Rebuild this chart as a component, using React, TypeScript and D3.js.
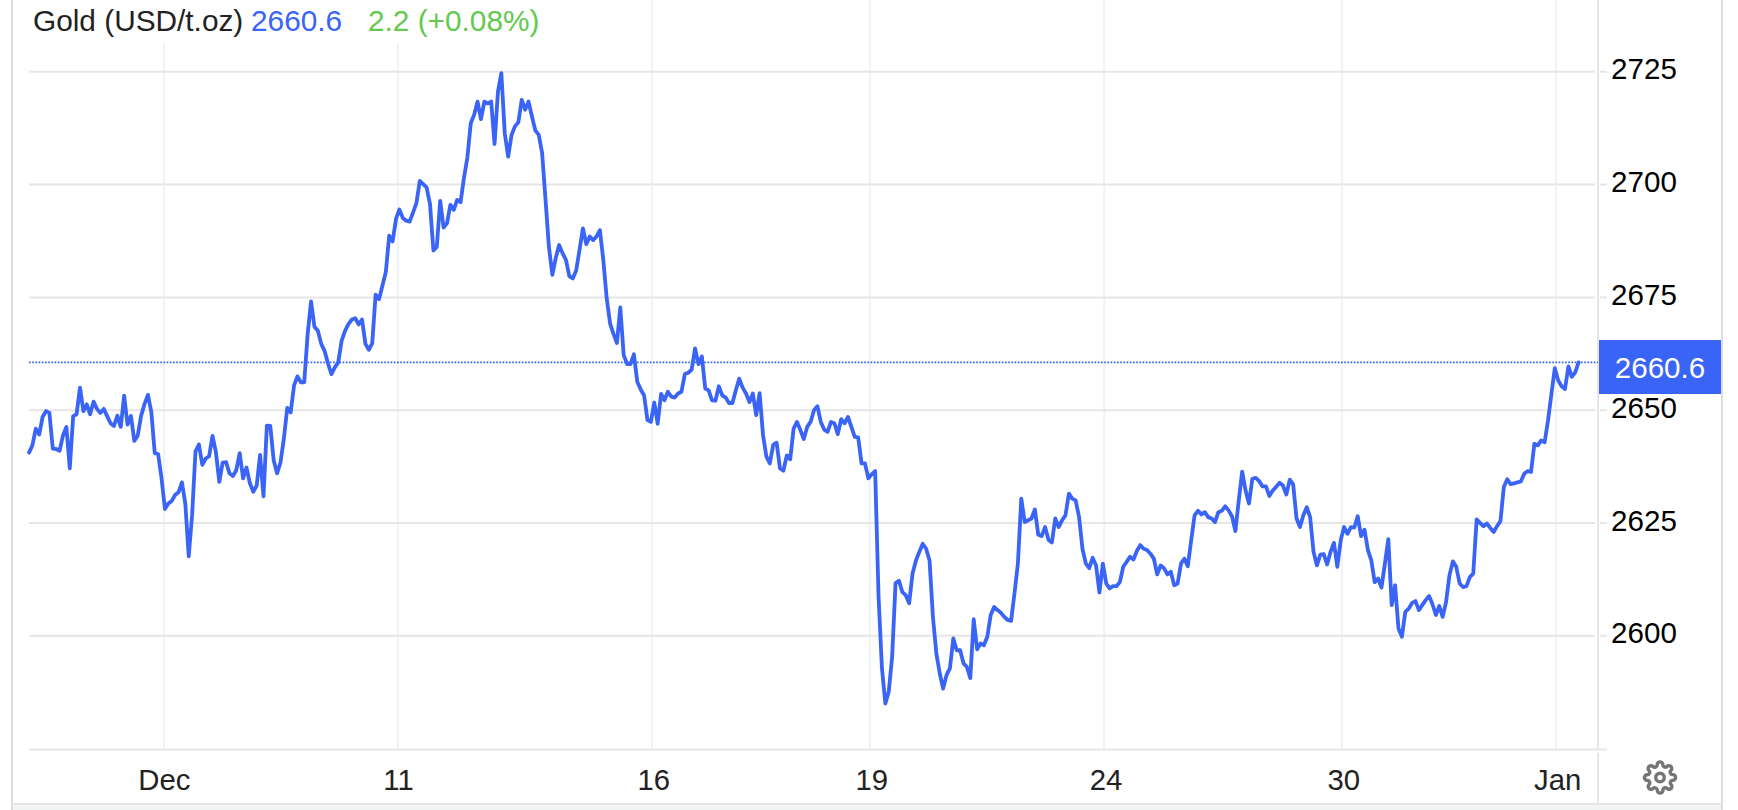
import React, { useRef, useEffect } from 'react';
import * as d3 from 'd3';

// Price per chart bar (bars are evenly spaced)
const lateNov = [
  2640.6, 2642.2, 2645.9, 2644.6, 2648.5, 2649.8, 2649.4, 2641.5, 2641.4, 2641, 2644.4, 2646.3, 2637.1, 2648.7,
  2649.1, 2655, 2649.8, 2651.3, 2649.1, 2651.9, 2650.3, 2649.4, 2650.3, 2648.7, 2647.1, 2646.5, 2648.8, 2646.3,
  2653.2, 2646.8, 2648.7, 2643.2, 2644.4, 2648.8, 2651.4, 2653.4, 2649.6, 2640.5, 2640.3, 2634.9, 2628.1, 2629.3,
  2629.9, 2631.2, 2631.8, 2634, 2629.3, 2617.6, 2626.8, 2640.9, 2642.4, 2637.9, 2639.3, 2639.8, 2644.3, 2640.7,
  2634.1, 2638.4, 2638.5, 2636, 2635.4, 2636.7, 2640.5, 2634.9, 2637.3, 2633.8,
];
const earlyDec = [
  2631.9, 2633.3, 2640.1, 2630.9, 2646.6, 2646.5, 2638.9, 2636, 2638.4, 2643.7, 2650.5, 2649.5, 2655.5, 2657.5,
  2656.2, 2656.2, 2666.9, 2674.1, 2668.5, 2667.6, 2664.7, 2663.1, 2660.3, 2658, 2659.5, 2660.6, 2665.4, 2667.6,
  2669.1, 2670.1, 2670.4, 2669, 2670.1, 2664.7, 2663.4, 2664.8, 2675.6, 2674.6, 2677.6, 2680.6, 2688.7, 2687.4,
  2692.4, 2694.5, 2692.6, 2692, 2691.8, 2693.8, 2695.9, 2700.8, 2700.1, 2699.4, 2695.7, 2685.4, 2686.2, 2696.4,
  2690.5, 2691.4, 2695.5, 2694.4, 2696.6, 2696.1,
];
const midDec = [
  2701.5, 2706, 2713.6, 2715.5, 2718.4, 2714.5, 2718.4, 2718, 2718.4, 2709, 2720.6, 2724.7, 2711.4, 2706.2, 2711,
  2712.9, 2713.8, 2718.8, 2716.6, 2718.4, 2715.1, 2712, 2711, 2707, 2696.6, 2686.2, 2680, 2683.7, 2686.6, 2684.8,
  2683.3, 2679.7, 2679.2, 2680.9, 2685.5, 2690.3, 2686.8, 2688.5, 2687.7, 2688.5, 2689.9, 2683.3, 2674.8, 2669.2,
  2666.9, 2664.9, 2672.8, 2662.2, 2660.2, 2660.2, 2662.4, 2656.3, 2654.6, 2653.3, 2647.8, 2647.4, 2651.7, 2647,
  2653.6, 2652.2, 2654.1, 2653, 2652.8, 2653.7, 2654.1, 2658, 2658.3, 2659, 2663.7, 2660.2,
];
const preFed = [
  2661.9, 2654.8, 2654.4, 2652.2, 2652.1, 2655.3, 2653.3, 2652.8, 2651.6, 2651.6, 2654.4, 2657, 2655, 2653.7, 2651.8,
  2653.7, 2648.9, 2653.8, 2644.5, 2639.7, 2638.2, 2642.3, 2642.8, 2637.1, 2636.6, 2640, 2639.1, 2645.9, 2647.4,
  2645.6, 2643.6, 2646.3, 2647.4, 2650, 2650.9, 2647.4, 2645.7, 2645.2, 2647.4, 2647.1, 2644.7, 2648, 2647.1, 2648.5,
  2646.3, 2644.1, 2644, 2638.2, 2638.2, 2634.9, 2635.8, 2636.5,
];
const postFed = [
  2608.6, 2592.8, 2585, 2587.6, 2595.4, 2611.7, 2612.2, 2609.7, 2609, 2607.2, 2613.8, 2616.7, 2618.6, 2620.4, 2619.3,
  2616.7, 2604.2, 2596.1, 2591.7, 2588.3, 2591.3, 2592.8, 2599.4, 2596.8, 2596.8, 2593.9, 2593.1, 2590.6, 2603.7,
  2597, 2598.3, 2597.9, 2599.8, 2604.6, 2606.4, 2605.7, 2605.1, 2604.2, 2603.5, 2603.3, 2609.4, 2616, 2630.4, 2625.2,
  2625.6, 2626, 2628, 2622.4, 2622.1, 2624.1, 2621.3, 2620.7, 2626, 2624.1, 2625.6, 2626.7, 2631.5, 2630.4, 2630,
  2626.3, 2619.3, 2616, 2615, 2617.3, 2615.6, 2609.6, 2616, 2611.6, 2610.5, 2611, 2611, 2611.9, 2615.3, 2616.4,
  2617.5, 2616.9, 2618.8, 2620.1, 2619.3, 2619, 2618.2, 2617.1, 2613.6, 2615.6, 2615, 2613.6, 2614.2, 2611.2, 2611.6,
];
const yearEnd = [
  2616, 2617.1, 2615.4, 2621.2, 2626.7, 2627.7, 2626.9, 2627.4, 2626.3, 2626, 2625.2, 2627.4, 2627.7, 2628.7, 2627.8,
  2626.5, 2623.2, 2630, 2636.4, 2632.2, 2629.3, 2634.8, 2635, 2634.3, 2633.1, 2633.1, 2631, 2632.2, 2633, 2633.9,
  2633.3, 2631.3, 2634.6, 2633.6, 2626, 2624.1, 2626.7, 2628.5, 2626.3, 2618.6, 2615.6, 2618, 2618.1, 2615.8, 2618.6,
  2620.6, 2615.3, 2621.2, 2624.1, 2622.6, 2624.1, 2624, 2626.5, 2622.1, 2623.5, 2619, 2616.7, 2611.9, 2612.7, 2610.7,
  2616, 2621.4, 2606.8, 2611.2, 2601.6, 2599.8, 2605.3, 2606, 2607.3, 2607.7, 2605.7, 2606.8, 2607.9, 2608.8, 2607,
  2604.6, 2606.6, 2604.2, 2607.5, 2613.4, 2616.5, 2615.3, 2611.6, 2610.8, 2611, 2613, 2613.8, 2625.8, 2625, 2624.3,
  2624.9, 2623.9, 2623, 2624.3, 2625.4, 2633, 2634.7, 2633.6, 2633.8, 2634, 2634.2, 2635.9, 2636.5, 2636.3, 2642.6,
  2642.2, 2643.3, 2642.9, 2647.7, 2653.6, 2659.3, 2656.6, 2655.3, 2654.7, 2659.7, 2657.4, 2658.4, 2660.6,
];
const prices = [...lateNov, ...earlyDec, ...midDec, ...preFed, ...postFed, ...yearEnd];

const priceTicks = [2600, 2625, 2650, 2675, 2700, 2725];
const dateLabels = ['Dec', '11', '16', '19', '24', '30', 'Jan'];
const dateBars = [39.7, 108.6, 183.3, 247.5, 316.4, 386.4, 449.3];

const lastPrice = 2660.6;
const titleName = 'Gold (USD/t.oz)';
const titleChange = '2.2 (+0.08%)';

const BLUE = '#3a64f5';
const GREEN = '#63c94f';
const GRID = '#e6e6e6';
const GRID_V = '#eff2f6';
const FONT = '"Liberation Sans", Arial, sans-serif';

const GEAR =
  'M19.4 15a1.65 1.65 0 0 0 .33 1.82l.06.06a2 2 0 0 1 0 2.83 2 2 0 0 1-2.83 0l-.06-.06a1.65 1.65 0 0 0-1.82-.33 1.65 1.65 0 0 0-1 1.51V21a2 2 0 0 1-2 2 2 2 0 0 1-2-2v-.09A1.65 1.65 0 0 0 9 19.4a1.65 1.65 0 0 0-1.82.33l-.06.06a2 2 0 0 1-2.83 0 2 2 0 0 1 0-2.83l.06-.06a1.65 1.65 0 0 0 .33-1.82 1.65 1.65 0 0 0-1.51-1H3a2 2 0 0 1-2-2 2 2 0 0 1 2-2h.09A1.65 1.65 0 0 0 4.6 9a1.65 1.65 0 0 0-.33-1.82l-.06-.06a2 2 0 0 1 0-2.83 2 2 0 0 1 2.83 0l.06.06a1.65 1.65 0 0 0 1.82.33H9a1.65 1.65 0 0 0 1-1.51V3a2 2 0 0 1 2-2 2 2 0 0 1 2 2v.09a1.65 1.65 0 0 0 1 1.51 1.65 1.65 0 0 0 1.82-.33l.06-.06a2 2 0 0 1 2.83 0 2 2 0 0 1 0 2.83l-.06.06a1.65 1.65 0 0 0-.33 1.82V9a1.65 1.65 0 0 0 1.51 1H21a2 2 0 0 1 2 2 2 2 0 0 1-2 2h-.09a1.65 1.65 0 0 0-1.51 1z';

const App: React.FC = () => {
  const chartRef = useRef<SVGSVGElement | null>(null);

  useEffect(() => {
    if (!chartRef.current) return;

    const svg = d3.select(chartRef.current);
    svg.selectAll('*').remove();

    const width = 1738;
    const height = 810;
    const plotLeft = 29;
    const lineRight = 1578.6;
    const gridRight = 1595;
    const axisX = 1598;
    const plotBottom = 749.5;
    const footerTop = 804;
    const frameRight = 1722;

    const x = d3.scaleLinear().domain([0, prices.length - 1]).range([plotLeft, lineRight]);
    const y = d3.scaleLinear().domain([2600, 2725]).range([635.8, 71.8]);

    svg.attr('width', width).attr('height', height).style('font-family', FONT);
    svg.append('rect').attr('width', width).attr('height', height).attr('fill', '#fff');

    // Footer band and frame
    svg.append('rect').attr('x', 13).attr('y', footerTop).attr('width', frameRight - 13).attr('height', height - footerTop).attr('fill', '#f3f4f4');
    svg.append('line').attr('x1', 12).attr('x2', 12).attr('y1', 0).attr('y2', height).attr('stroke', '#dcdcdc').attr('stroke-width', 2);
    svg.append('line').attr('x1', frameRight).attr('x2', frameRight).attr('y1', 0).attr('y2', height).attr('stroke', '#dcdcdc').attr('stroke-width', 2);
    svg.append('line').attr('x1', 12).attr('x2', frameRight).attr('y1', footerTop).attr('y2', footerTop).attr('stroke', GRID).attr('stroke-width', 2);

    // Vertical date grid
    dateBars.forEach(b => {
      svg.append('line').attr('x1', x(b)).attr('x2', x(b)).attr('y1', 0).attr('y2', plotBottom).attr('stroke', GRID_V).attr('stroke-width', 2);
    });

    // Horizontal price grid and bottom axis line
    priceTicks.forEach(p => {
      svg.append('line').attr('x1', plotLeft).attr('x2', gridRight).attr('y1', y(p)).attr('y2', y(p)).attr('stroke', GRID).attr('stroke-width', 2);
      svg.append('line').attr('x1', axisX + 2).attr('x2', 1607).attr('y1', y(p)).attr('y2', y(p)).attr('stroke', GRID).attr('stroke-width', 2);
    });
    svg.append('line').attr('x1', plotLeft).attr('x2', 1607).attr('y1', plotBottom).attr('y2', plotBottom).attr('stroke', GRID).attr('stroke-width', 2);

    // Price axis divider
    svg.append('line').attr('x1', axisX).attr('x2', axisX).attr('y1', 0).attr('y2', plotBottom).attr('stroke', GRID).attr('stroke-width', 2);
    svg.append('line').attr('x1', axisX).attr('x2', axisX).attr('y1', 753).attr('y2', footerTop).attr('stroke', GRID).attr('stroke-width', 2);

    // Title, on a white plate that hides the gridlines behind it
    svg.append('rect').attr('x', plotLeft).attr('y', 0).attr('width', 530).attr('height', 43).attr('fill', '#fff');
    const title = [
      { text: titleName, at: 33, color: '#222' },
      { text: lastPrice.toFixed(1), at: 251, color: BLUE },
      { text: titleChange, at: 368, color: GREEN },
    ];
    svg.append('g').selectAll('text').data(title).join('text')
      .attr('x', d => d.at)
      .attr('y', 30.5)
      .attr('font-size', 29.8)
      .attr('fill', d => d.color)
      .text(d => d.text);

    // Last price dotted line
    svg.append('line').attr('x1', plotLeft).attr('x2', axisX).attr('y1', y(lastPrice)).attr('y2', y(lastPrice))
      .attr('stroke', BLUE).attr('stroke-width', 1.8).attr('stroke-dasharray', '1.7 1.5');

    // Price line
    const line = d3.line<number>().x((_, i) => x(i)).y(d => y(d));
    svg.append('path').datum(prices)
      .attr('d', line)
      .attr('fill', 'none')
      .attr('stroke', BLUE)
      .attr('stroke-width', 3.8)
      .attr('stroke-linejoin', 'round')
      .attr('stroke-linecap', 'round');

    // Axis labels
    svg.append('g').selectAll('text').data(priceTicks).join('text')
      .attr('x', 1611)
      .attr('y', d => y(d) + 7.6)
      .attr('font-size', 29.6)
      .attr('fill', '#000')
      .text(d => d);

    svg.append('g').selectAll('text').data(dateLabels).join('text')
      .attr('x', (_, i) => x(dateBars[i]) + (i < 2 ? 0.5 : 1.8))
      .attr('y', 789.5)
      .attr('text-anchor', 'middle')
      .attr('font-size', 29.3)
      .attr('fill', '#222')
      .text(d => d);

    // Last price badge
    svg.append('rect').attr('x', 1599).attr('y', 340).attr('width', 122).attr('height', 54).attr('fill', BLUE);
    svg.append('text').attr('x', 1660).attr('y', 378).attr('text-anchor', 'middle')
      .attr('font-size', 29.6).attr('fill', '#fff').text(lastPrice.toFixed(1));

    // Settings gear
    const gear = svg.append('g').attr('transform', 'translate(1660,777.5) scale(1.42) translate(-12,-12)')
      .attr('fill', 'none').attr('stroke', '#757575').attr('stroke-width', 2.4);
    gear.append('circle').attr('cx', 12).attr('cy', 12).attr('r', 3);
    gear.append('path').attr('d', GEAR);
  }, []);

  return <svg ref={chartRef} style={{ position: 'fixed', left: 0, top: 0, display: 'block' }} />;
};

export default App;
